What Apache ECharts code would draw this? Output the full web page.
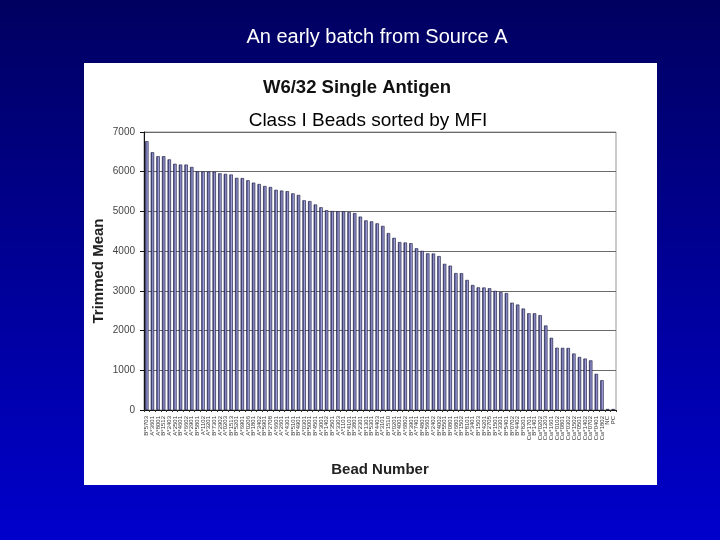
<!DOCTYPE html>
<html lang="en">

<head>
  <meta charset="UTF-8">
  <title>W6/32 Single Antigen</title>
</head>

<body style="margin:0;">
  <div id="main" style="width: 720px;height:540px;"></div>
  <script src="https://cdn.jsdelivr.net/npm/echarts@6/dist/echarts.min.js"></script>
  <script>
    // bead names (read as best as possible, labels are tiny in the original)
    const beads = [
      'B*5703', 'A*3601', 'A*8001', 'B*1512', 'A*2403', 'A*2501', 'B*4601', 'A*6602', 'A*2901', 'B*5801',
      'A*1102', 'A*3201', 'B*7301', 'A*2902', 'A*0203', 'B*1513', 'B*5201', 'A*6901', 'A*0206', 'B*1801',
      'A*3402', 'B*5901', 'B*2708', 'A*6601', 'A*2601', 'A*4301', 'B*5101', 'B*4901', 'A*0301', 'B*5001',
      'B*4501', 'A*3001', 'B*1402', 'B*3501', 'A*3303', 'A*1101', 'B*4101', 'B*3801', 'A*2301', 'B*1301',
      'B*5301', 'B*4403', 'A*3101', 'B*1510', 'A*0201', 'B*4001', 'A*6802', 'B*3901', 'A*7401', 'B*4801',
      'B*5601', 'A*2402', 'B*4002', 'B*5501', 'B*0801', 'A*6801', 'B*1502', 'B*8101', 'A*3401', 'B*1503',
      'B*4201', 'B*2705', 'B*1501', 'A*3301', 'B*5401', 'B*0702', 'B*4402', 'B*8201', 'Cw*1701', 'B*1401',
      'Cw*0202', 'Cw*1203', 'Cw*1601', 'Cw*0102', 'Cw*0801', 'Cw*0302', 'Cw*1502', 'Cw*0501', 'Cw*1402', 'Cw*0702',
      'Cw*0401', 'Cw*1802', 'NC', 'PC'
    ];

    // trimmed mean fluorescence per bead
    const trimmedMean = [
      6770, 6490, 6390, 6390, 6310, 6200, 6180, 6180, 6120, 6010,
      6005, 6005, 6000, 5960, 5945, 5930, 5845, 5840, 5785, 5725,
      5690, 5640, 5615, 5545, 5525, 5510, 5455, 5415, 5280, 5260,
      5175, 5105, 5030, 5010, 5005, 5005, 4985, 4960, 4870, 4775,
      4750, 4700, 4635, 4455, 4335, 4228, 4218, 4200, 4072, 4008,
      3945, 3940, 3875, 3680, 3635, 3448, 3445, 3275, 3148, 3088,
      3085, 3065, 3000, 2970, 2945, 2702, 2655, 2555, 2435, 2435,
      2388, 2128, 1818, 1568, 1565, 1562, 1422, 1335, 1295, 1250,
      910, 750, 25, 25
    ];

    const yTicks = [0, 1000, 2000, 3000, 4000, 5000, 6000, 7000];

    const myChart = echarts.init(document.getElementById('main'));

    const option = {
      animation: false,
      backgroundColor: {
        type: 'linear', x: 0, y: 0, x2: 0, y2: 1,
        colorStops: [{ offset: 0, color: '#000060' }, { offset: 1, color: '#0000cc' }]
      },
      graphic: [{
        type: 'rect',
        z: -10,
        silent: true,
        shape: { x: 84, y: 63, width: 573, height: 422 },
        style: { fill: '#ffffff' }
      }],
      title: [{
        text: 'An early batch from Source A',
        left: 372, top: 22, textAlign: 'center',
        textStyle: { color: '#ffffff', fontSize: 20, fontWeight: 'normal', fontFamily: 'Liberation Sans' }
      }, {
        text: 'W6/32 Single Antigen',
        left: 352, top: 73, textAlign: 'center',
        textStyle: { color: '#111111', fontSize: 18.5, fontWeight: 'bold', fontFamily: 'Liberation Sans' }
      }, {
        text: 'Class I Beads sorted by MFI',
        left: 363, top: 106, textAlign: 'center',
        textStyle: { color: '#000000', fontSize: 19, fontWeight: 'normal', fontFamily: 'Liberation Sans' }
      }],
      grid: {
        left: 144, right: 104, top: 132, bottom: 130,
        show: true, borderColor: '#999999', borderWidth: 1, backgroundColor: 'transparent'
      },
      xAxis: {
        type: 'category',
        data: beads,
        name: 'Bead Number',
        nameLocation: 'middle',
        nameGap: 52,
        nameMoveOverlap: false,
        nameTextStyle: { fontSize: 15, fontWeight: 'bold', color: '#222222', fontFamily: 'Liberation Sans' },
        axisLine: { lineStyle: { color: '#111111', width: 1 } },
        axisTick: { show: true, interval: 0, length: 2, lineStyle: { color: '#333333' } },
        axisLabel: { interval: 0, rotate: 90, fontSize: 6, color: '#333333', margin: 6, fontFamily: 'Liberation Sans' }
      },
      yAxis: {
        type: 'value',
        min: 0, max: 7000, interval: 1000,
        name: 'Trimmed Mean',
        nameLocation: 'middle',
        nameGap: 38,
        nameMoveOverlap: false,
        nameTextStyle: { fontSize: 15, fontWeight: 'bold', color: '#222222', fontFamily: 'Liberation Sans' },
        axisLine: { show: true, lineStyle: { color: '#111111', width: 1 } },
        axisTick: { show: true, length: 4, lineStyle: { color: '#111111' } },
        axisLabel: {
          fontSize: 10, color: '#444444', margin: 9, fontFamily: 'Liberation Sans',
          formatter: (v) => (yTicks.includes(v) ? String(v) : '')
        },
        splitLine: { show: true, lineStyle: { color: '#6a6a6a', width: 1 } }
      },
      series: [{
        type: 'bar',
        data: trimmedMean,
        barWidth: 3.4,
        itemStyle: {
          color: {
            type: 'linear', x: 0, y: 0, x2: 1, y2: 0,
            colorStops: [
              { offset: 0, color: '#161640' },
              { offset: 0.35, color: '#6464a2' },
              { offset: 0.65, color: '#a6a6da' },
              { offset: 1, color: '#54548e' }
            ]
          },
          borderColor: '#1c1c44',
          borderWidth: 0.6
        }
      }]
    };

    myChart.setOption(option);
  </script>
</body>

</html>
